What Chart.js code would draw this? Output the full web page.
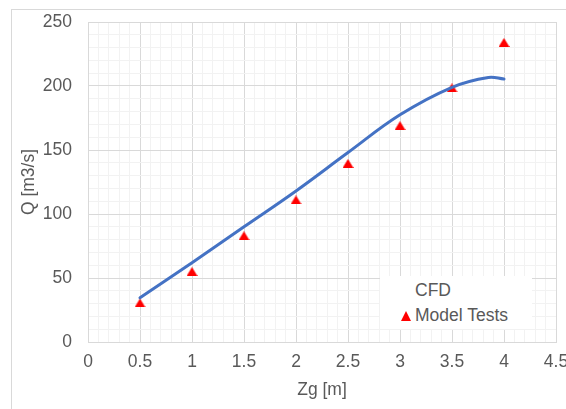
<!DOCTYPE html>
<html>
<head>
<meta charset="utf-8">
<script src="https://cdn.jsdelivr.net/npm/chart.js@4.4.0/dist/chart.umd.min.js"></script>
<style>
  html, body { margin: 0; padding: 0; background: #ffffff; overflow: hidden; }
  #wrap { position: relative; width: 566px; height: 409px; }
  #frame { position: absolute; left: 11px; top: 9px; width: 700px; height: 600px;
           border-top: 1px solid #d9d9d9; border-left: 1px solid #d9d9d9; }
  #c { position: absolute; left: 0; top: 0; }
  #legend { position: absolute; left: 380px; top: 276px; width: 152px; height: 53px;
            background: #ffffff; font-family: "Liberation Sans", Arial, sans-serif;
            font-size: 17.5px; color: #595959; }
  .lt { position: absolute; left: 35px; line-height: 17.5px; white-space: nowrap; }
  .tri { position: absolute; left: 21px; width: 0; height: 0;
         border-left: 5px solid transparent; border-right: 5px solid transparent;
         border-bottom: 10px solid #ff0000; }
</style>
</head>
<body>
<div id="wrap">
  <div id="frame"></div>
  <canvas id="c" width="566" height="409"></canvas>
  <div id="legend">
    <span class="lt" style="top:6px;">CFD</span>
    <div class="tri" style="top:35px;"></div>
    <span class="lt" style="top:31px;">Model Tests</span>
  </div>
</div>
<script>
// ---- data ----
const cfdLabel = "CFD";
const cfdZg = [0.5, 1, 1.5, 2, 2.5, 3, 3.5, 3.85, 4];
const cfdQ  = [34.5, 62, 90, 118, 148, 177.5, 199, 206.7, 205.4];

const testLabel = "Model Tests";
const testZg = [0.5, 1, 1.5, 2, 2.5, 3, 3.5, 4];
const testQ  = [30.5, 55, 83, 111, 139.5, 169, 198.5, 234];

const xTickLabels = ["0", "0.5", "1", "1.5", "2", "2.5", "3", "3.5", "4", "4.5"];
const yTickLabels = ["0", "50", "100", "150", "200", "250"];
const xTitle = "Zg [m]";
const yTitle = "Q [m3/s]";

// ---- helpers ----
function toPts(xs, ys) { return xs.map((x, i) => ({ x: x, y: ys[i] })); }
function isMult(v, step) { const r = v / step; return Math.abs(r - Math.round(r)) < 1e-6; }

// flat triangle marker like Excel
const tri = document.createElement('canvas');
tri.width = 11; tri.height = 9;
(function () {
  const g = tri.getContext('2d');
  g.fillStyle = '#ff0000';
  g.beginPath(); g.moveTo(5.5, 0); g.lineTo(11, 9); g.lineTo(0, 9); g.closePath(); g.fill();
})();

const FONT = { family: '"Liberation Sans", Arial, sans-serif', size: 17.5 };
const TXT = '#595959';
const MAJ = '#d9d9d9', MIN = '#f2f2f2';

new Chart(document.getElementById('c'), {
  type: 'scatter',
  data: {
    datasets: [
      { label: cfdLabel, data: toPts(cfdZg, cfdQ), showLine: true, borderColor: '#4472c4',
        borderWidth: 3, pointRadius: 0, tension: 0.4, fill: false,
        borderCapStyle: 'round' },
      { label: testLabel, data: toPts(testZg, testQ), showLine: false,
        pointStyle: tri, pointRadius: 6, backgroundColor: '#ff0000', borderColor: '#ff0000' }
    ]
  },
  options: {
    responsive: false,
    animation: false,
    events: [],
    layout: { padding: { left: 0, top: 22, right: 10, bottom: 0 } },
    plugins: { legend: { display: false }, tooltip: { enabled: false } },
    scales: {
      x: {
        type: 'linear', min: 0, max: 4.5,
        ticks: {
          stepSize: 0.1, autoSkip: false, maxRotation: 0, padding: 10,
          color: TXT, font: FONT,
          callback: function (v) {
            if (!isMult(v, 0.5)) return '';
            const s = String(Math.round(v * 10) / 10);
            return xTickLabels.includes(s) ? s : '';
          }
        },
        grid: { drawTicks: false, lineWidth: 1,
          color: (ctx) => (ctx.tick && isMult(ctx.tick.value, 0.5)) ? MAJ : MIN },
        border: { color: MAJ },
        title: { display: true, text: xTitle, color: TXT, font: FONT, padding: { top: 0, bottom: 8 } },
        afterFit: (s) => { s.height = 67; s.paddingRight = 0; s.paddingLeft = 0; }
      },
      y: {
        type: 'linear', min: 0, max: 250,
        ticks: {
          stepSize: 10, autoSkip: false, padding: 16,
          color: TXT, font: FONT,
          callback: function (v) {
            if (!isMult(v, 50)) return '';
            const s = String(Math.round(v));
            return yTickLabels.includes(s) ? s : '';
          }
        },
        grid: { drawTicks: false, lineWidth: 1,
          color: (ctx) => (ctx.tick && isMult(ctx.tick.value, 50)) ? MAJ : MIN },
        border: { color: MAJ },
        title: { display: true, text: yTitle, color: TXT, font: FONT, padding: { top: 19, bottom: 0 } },
        afterFit: (s) => { s.width = 88; s.paddingTop = 0; s.paddingBottom = 0; }
      }
    }
  }
});
</script>
</body>
</html>
